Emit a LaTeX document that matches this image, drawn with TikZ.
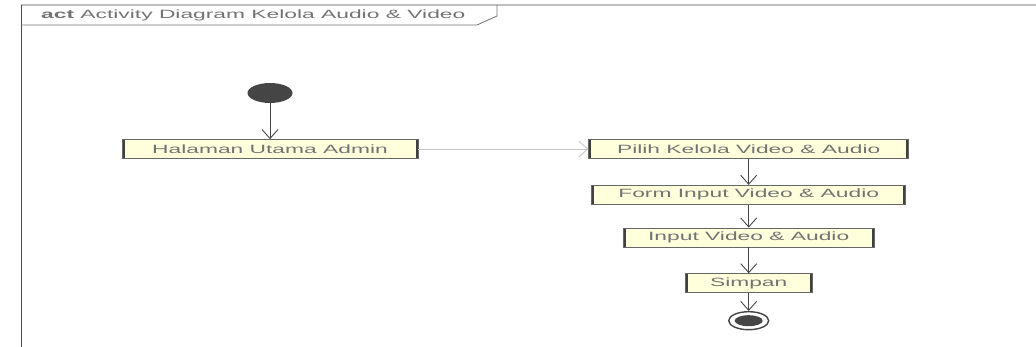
\documentclass[tikz,border=0pt]{standalone}
\usepackage{fontspec}
\newfontfamily\umlfont[FakeStretch=1.9]{Liberation Sans}
\usetikzlibrary{positioning,arrows.meta,shapes.geometric}
\definecolor{boxfill}{HTML}{FFFFDC}
\definecolor{inkgray}{HTML}{454545}
\tikzset{
  action/.style={draw=black!60, line width=0.7pt, fill=boxfill, rectangle,
    minimum height=19pt, inner sep=0pt, text=black!55,
    font=\umlfont\fontsize{12}{14}\selectfont,
    path picture={\draw[line width=5pt, black!75]
      (path picture bounding box.north west) -- (path picture bounding box.south west)
      (path picture bounding box.north east) -- (path picture bounding box.south east);}},
  initial/.style={ellipse, fill=inkgray, minimum width=45pt, minimum height=20pt, inner sep=0pt},
  final/.style={ellipse, draw=inkgray, line width=1.4pt, fill=white, minimum width=40pt, minimum height=18pt, inner sep=0pt},
  flow/.style={draw=inkgray, line width=0.9pt, -{Straight Barb[length=9pt,width=16pt]}},
  flowlight/.style={flow, draw=black!22},
}
\begin{document}
\begin{tikzpicture}[x=1pt, y=1pt]
\useasboundingbox (0,0) rectangle (1036,-347);

% Frame
\draw[black!25, line width=1.2pt] (21,-5) -- (1036,-5);
\draw[black!70, line width=0.8pt] (21,-347) -- (21,-5);
\draw[black!55, line width=0.8pt] (21,-25) -- (477,-25) -- (497,-16) -- (497,-5);
\node[anchor=west, inner sep=0pt, text=black!55, font=\umlfont\fontsize{12}{14}\selectfont] (title) at (41,-15)
  {\textbf{act} Activity Diagram Kelola Audio \& Video};

% Place nodes
\node [initial] (start) at (270,-93) {};
\node [action, minimum width=296pt, below=36pt of start] (halaman) {Halaman Utama Admin};
\node [action, minimum width=320pt, right=170pt of halaman] (pilih) {Pilih Kelola Video \& Audio};
\node [action, minimum width=314pt, below=26pt of pilih] (form) {Form Input Video \& Audio};
\node [action, minimum width=251pt, below=23pt of form] (input) {Input Video \& Audio};
\node [action, minimum width=127pt, below=26pt of input] (simpan) {Simpan};
\node [final, below=18pt of simpan] (stop) {};
\fill[inkgray] (stop.center) ellipse (14pt and 5.5pt);

% Place lines
\draw [flow] (start) -- (halaman);
\draw [flowlight] (halaman) -- (pilih);
\draw [flow] (pilih) -- (form);
\draw [flow] (form) -- (input);
\draw [flow] (input) -- (simpan);
\draw [flow] (simpan) -- (stop);

\end{tikzpicture}
\end{document}
